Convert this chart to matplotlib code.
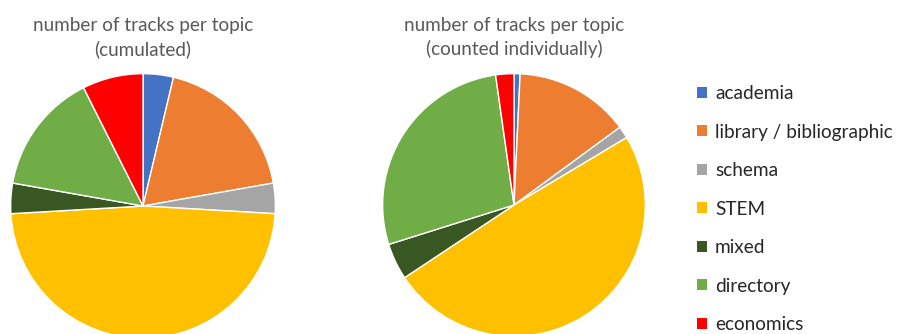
import matplotlib
matplotlib.use("Agg")
import matplotlib.pyplot as plt
from matplotlib.patches import Patch

categories = ["academia", "library / bibliographic", "schema", "STEM",
              "mixed", "directory", "economics"]
cumulated = [1, 5, 1, 13, 1, 4, 2]
individual = [1, 19, 2, 66, 6, 37, 3]
colors = ["#4472C4", "#ED7D31", "#A5A5A5", "#FFC000", "#385723", "#70AD47", "#FF0000"]
titles = ["number of tracks per topic\n(cumulated)",
          "number of tracks per topic\n(counted individually)"]

plt.rcParams['font.family'] = ['Lato', 'DejaVu Sans']

W, H = 897, 334
fig = plt.figure(figsize=(W / 100, H / 100), dpi=100)

def add_pie_axes(cx, cy, r):
    # cx, cy, r in pixels from top-left
    return fig.add_axes([(cx - r) / W, (H - cy - r) / H, 2 * r / W, 2 * r / H])

specs = [(143, 206, 133), (514, 205, 132)]
for (cx, cy, r), data, title in zip(specs, [cumulated, individual], titles):
    ax = add_pie_axes(cx, cy, r)
    ax.pie(data, colors=colors, startangle=90, counterclock=False, radius=1,
           wedgeprops=dict(edgecolor="white", linewidth=1.0))
    ax.set_xlim(-1.005, 1.005)
    ax.set_ylim(-1.005, 1.005)
    ax.set_aspect("equal")
    ax.axis("off")
    fig.text(cx / W, (H - 55) / H, title, ha="center", va="baseline",
             fontsize=13.6, color="#595959", linespacing=1.42)

handles = [Patch(facecolor=c, edgecolor="none") for c in colors]
leg = fig.legend(handles, categories, loc="upper left",
                 bbox_to_anchor=(697 / W, (H - 85) / H),
                 frameon=False, fontsize=13.7, handlelength=0.53, handleheight=0.53,
                 handletextpad=0.42, labelspacing=1.13, borderpad=0, borderaxespad=0)
for t in leg.get_texts():
    t.set_color("#262626")

fig.savefig("out.png", dpi=100)
